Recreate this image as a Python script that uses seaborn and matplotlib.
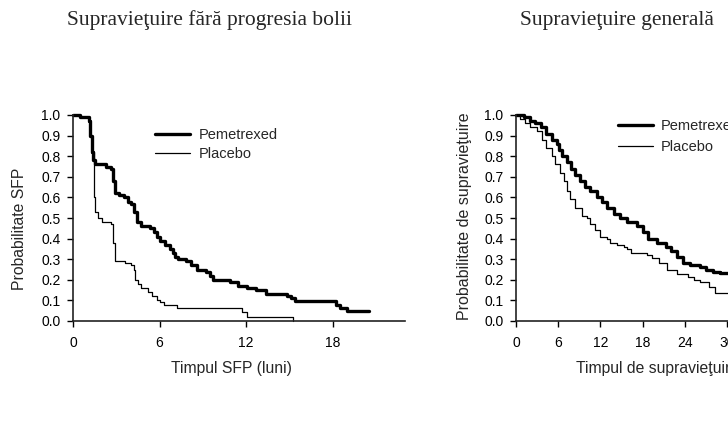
import numpy as np
import pandas as pd
import matplotlib
matplotlib.use("Agg")
import matplotlib.pyplot as plt
import seaborn as sns

sns.set_style("ticks")
plt.rcParams['font.family'] = ['Liberation Sans', 'DejaVu Sans']

# Supravietuire fara progresia bolii (SFP), Kaplan-Meier, luni
sfp_pem_t = [0, 0.5, 1.1, 1.2, 1.3, 1.4, 1.5, 2.3, 2.6, 2.8, 2.9, 3.2, 3.5, 3.8, 4.0, 4.2, 4.4,
             4.7, 5.3, 5.6, 5.8, 6.05, 6.4, 6.7, 6.9, 7.1, 7.3, 7.8, 8.2, 8.6, 9.2, 9.5, 9.7,
             10.9, 11.4, 12.05, 12.7, 13.4, 14.8, 15.1, 15.4, 18.2, 18.5, 19.0, 20.5]
sfp_pem_s = [1.0, 0.99, 0.97, 0.9, 0.82, 0.78, 0.76, 0.75, 0.74, 0.68, 0.62, 0.61, 0.60, 0.58,
             0.57, 0.53, 0.48, 0.46, 0.45, 0.43, 0.41, 0.39, 0.37, 0.35, 0.33, 0.31, 0.30, 0.29,
             0.27, 0.25, 0.24, 0.22, 0.20, 0.19, 0.17, 0.16, 0.15, 0.13, 0.12, 0.11, 0.095, 0.08,
             0.065, 0.048, 0.048]
sfp_pla_t = [0, 0.5, 1.1, 1.2, 1.3, 1.45, 1.5, 1.7, 2.0, 2.6, 2.8, 2.9, 3.6, 4.0, 4.2, 4.3, 4.5,
             4.7, 5.2, 5.5, 5.8, 6.0, 6.3, 7.2, 11.7, 12.05, 15.25]
sfp_pla_s = [1.0, 0.99, 0.97, 0.9, 0.82, 0.60, 0.53, 0.50, 0.48, 0.47, 0.38, 0.29, 0.28, 0.27,
             0.25, 0.20, 0.18, 0.16, 0.14, 0.12, 0.10, 0.09, 0.08, 0.065, 0.045, 0.02, 0.0]

# Supravietuire generala
os_pem_t = [0, 1.1, 2.0, 2.7, 3.5, 4.2, 5.1, 5.8, 6.1, 6.5, 7.2, 7.8, 8.4, 9.1, 9.8, 10.6, 11.5,
            12.2, 13.0, 13.9, 14.8, 15.8, 17.2, 18.1, 18.8, 20.0, 21.4, 22.1, 22.9, 23.8, 24.8,
            26.2, 27.1, 28.0, 29.0, 40]
os_pem_s = [1.0, 0.99, 0.97, 0.96, 0.94, 0.91, 0.88, 0.86, 0.83, 0.80, 0.77, 0.74, 0.71, 0.68,
            0.65, 0.63, 0.60, 0.58, 0.55, 0.52, 0.50, 0.48, 0.46, 0.43, 0.40, 0.38, 0.36, 0.34,
            0.31, 0.28, 0.27, 0.26, 0.25, 0.24, 0.235, 0.235]
os_pla_t = [0, 0.6, 1.3, 2.0, 3.0, 3.7, 4.2, 5.1, 5.6, 6.3, 6.8, 7.3, 7.7, 8.4, 9.4, 10.1, 10.6,
            11.3, 12.0, 12.9, 13.4, 14.4, 15.3, 15.8, 16.3, 18.6, 19.4, 20.4, 21.5, 22.9, 24.5,
            25.3, 26.2, 27.4, 28.3, 40]
os_pla_s = [1.0, 0.98, 0.96, 0.94, 0.92, 0.88, 0.84, 0.80, 0.76, 0.72, 0.68, 0.63, 0.59, 0.55,
            0.51, 0.50, 0.47, 0.44, 0.41, 0.40, 0.38, 0.37, 0.36, 0.35, 0.33, 0.32, 0.305, 0.28,
            0.25, 0.23, 0.215, 0.20, 0.19, 0.167, 0.134, 0.134]

labels = ["Pemetrexed", "Placebo"]
yticks = [0.0, 0.1, 0.2, 0.3, 0.4, 0.5, 0.6, 0.7, 0.8, 0.9, 1.0]

W, H = 728, 426
fig = plt.figure(figsize=(W / 100, H / 100), dpi=100)

def px_axes(left, right, top, bottom):
    return fig.add_axes([left / W, (H - bottom) / H, (right - left) / W, (bottom - top) / H])

ax1 = px_axes(73, 405, 115, 321)
ax2 = px_axes(516, 769, 115, 321)

def km(ax, t, s, lw, label):
    df = pd.DataFrame({"t": t, "s": s})
    sns.lineplot(data=df, x="t", y="s", ax=ax, color="black", linewidth=lw,
                 drawstyle="steps-post", estimator=None, sort=False, label=label,
                 clip_on=False)

km(ax1, sfp_pem_t, sfp_pem_s, 2.4, labels[0])
km(ax1, sfp_pla_t, sfp_pla_s, 0.9, labels[1])
km(ax2, os_pem_t, os_pem_s, 2.4, labels[0])
km(ax2, os_pla_t, os_pla_s, 0.9, labels[1])

for ax, xmax, xt in [(ax1, 23, [0, 6, 12, 18]), (ax2, 36, [0, 6, 12, 18, 24, 30, 36])]:
    ax.set_xlim(0, xmax)
    ax.set_ylim(0, 1.0)
    ax.set_xticks(xt)
    ax.set_yticks(yticks)
    ax.set_yticklabels([f"{v:.1f}" for v in yticks])
    ax.tick_params(labelsize=10, length=4, width=1, colors="black")
    ax.tick_params(axis="y", pad=5)
    ax.tick_params(axis="x", pad=7)
    ax.set_xlabel("")
    ax.set_ylabel("")
    sns.despine(ax=ax)
    for sp in ["left", "bottom"]:
        ax.spines[sp].set_linewidth(1.2)
        ax.spines[sp].set_color("#222222")

ax1.legend(loc="upper left", bbox_to_anchor=(0.247, 0.935), frameon=False, fontsize=10.5,
           handlelength=2.4, handletextpad=0.6, labelspacing=0.3, borderpad=0, borderaxespad=0)
ax2.legend(loc="upper left", bbox_to_anchor=(0.403, 0.98), frameon=False, fontsize=10.5,
           handlelength=2.4, handletextpad=0.55, labelspacing=0.5, borderpad=0, borderaxespad=0)

serif = ['Liberation Serif', 'DejaVu Serif']
fig.text(210 / W, 1 - 20 / H, "Supravieţuire fără progresia bolii", family=serif,
         fontsize=15.5, ha="center", va="center")
fig.text(617 / W, 1 - 20 / H, "Supravieţuire generală", family=serif,
         fontsize=15.5, ha="center", va="center")

fig.text(20 / W, 1 - 229 / H, "Probabilitate SFP", rotation=90, fontsize=11.3,
         ha="center", va="center")
fig.text(465 / W, 1 - 216 / H, "Probabilitate de supravieţuire", rotation=90, fontsize=11.5,
         ha="center", va="center")
fig.text(231 / W, 1 - 369 / H, "Timpul SFP (luni)", fontsize=11.3, ha="center", va="center")
fig.text(576 / W, 1 - 369 / H, "Timpul de supravieţuire (luni)", fontsize=11.3,
         ha="left", va="center")

fig.savefig("out.png", dpi=100)
